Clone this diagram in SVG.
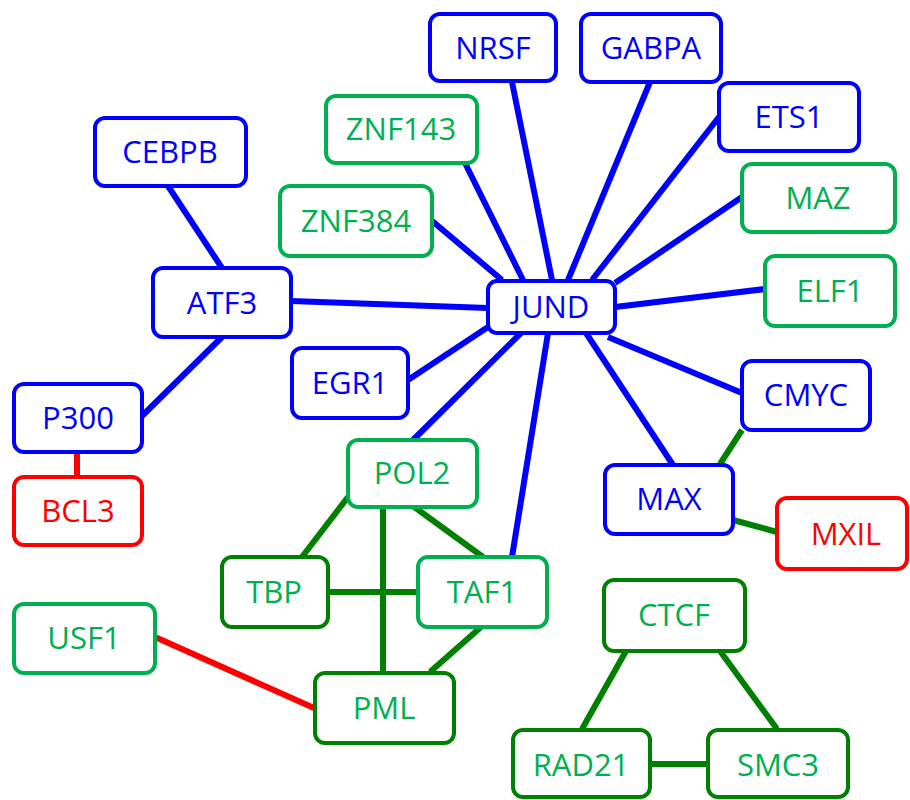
<svg xmlns="http://www.w3.org/2000/svg" width="910" height="800" viewBox="0 0 910 800">
<style>
.n rect{fill:#fff;stroke-width:4;}
.b rect{stroke:#0000FF;} .b text{fill:#0000FF;}
.g rect{stroke:#00B050;} .g text{fill:#00B050;}
.d rect{stroke:#008000;} .d text{fill:#00B050;}
.r rect{stroke:#FF0000;} .r text{fill:#FF0000;}
text{font-family:"Open Sans","Liberation Sans",sans-serif;font-size:31px;text-anchor:middle;}
.e line{stroke-width:6;stroke-linecap:butt;}
.eb{stroke:#0000FF;} .eg{stroke:#008000;} .er{stroke:#FF0000;}
</style>
<rect width="910" height="800" fill="#fff"/>
<g id="edges" class="e">
<line class="eb" x1="168" y1="186" x2="222" y2="268"/>
<line class="eb" x1="222" y1="337" x2="142" y2="416"/>
<line class="er" x1="77" y1="452" x2="77" y2="476"/>
<line class="eb" x1="291" y1="301" x2="488" y2="308"/>
<line class="eb" x1="431" y1="220" x2="502" y2="280"/>
<line class="eb" x1="465" y1="163" x2="523" y2="280"/>
<line class="eb" x1="512" y1="82" x2="552" y2="280"/>
<line class="eb" x1="650" y1="82" x2="568" y2="280"/>
<line class="eb" x1="719" y1="117" x2="592" y2="280"/>
<line class="eb" x1="742" y1="197" x2="615" y2="283"/>
<line class="eb" x1="765" y1="289" x2="615" y2="307"/>
<line class="eb" x1="742" y1="393" x2="608" y2="337"/>
<line class="eb" x1="673" y1="465" x2="586" y2="333"/>
<line class="eg" x1="742" y1="430" x2="720" y2="464"/>
<line class="eg" x1="733" y1="520" x2="777" y2="532"/>
<line class="eb" x1="408" y1="380" x2="488" y2="327"/>
<line class="eb" x1="521" y1="333" x2="413" y2="440"/>
<line class="eb" x1="548" y1="333" x2="512" y2="557"/>
<line class="eg" x1="348" y1="497" x2="302" y2="557"/>
<line class="eg" x1="383" y1="507" x2="383" y2="673"/>
<line class="eg" x1="413" y1="506" x2="483" y2="557"/>
<line class="eg" x1="328" y1="592" x2="418" y2="592"/>
<line class="eg" x1="481" y1="627" x2="430" y2="672"/>
<line class="er" x1="155" y1="637" x2="314" y2="708"/>
<line class="eg" x1="626" y1="651" x2="582" y2="729"/>
<line class="eg" x1="720" y1="651" x2="777" y2="729"/>
<line class="eg" x1="650" y1="764" x2="708" y2="764"/>
</g>
<g id="NRSF" class="n b"><rect x="430" y="14" width="126" height="67" rx="10"/><text x="493" y="59">NRSF</text></g>
<g id="GABPA" class="n b"><rect x="581" y="14" width="140" height="68" rx="10"/><text x="651" y="59">GABPA</text></g>
<g id="ZNF143" class="n g"><rect x="326" y="96" width="151" height="67" rx="10"/><text x="401" y="140">ZNF143</text></g>
<g id="ZNF384" class="n g"><rect x="280" y="186" width="152" height="70" rx="10"/><text x="356" y="232">ZNF384</text></g>
<g id="ETS1" class="n b"><rect x="719" y="83" width="140" height="68" rx="10"/><text x="789" y="128">ETS1</text></g>
<g id="MAZ" class="n g"><rect x="742" y="164" width="153" height="68" rx="10"/><text x="818" y="209">MAZ</text></g>
<g id="ELF1" class="n g"><rect x="765" y="256" width="130" height="70" rx="10"/><text x="830" y="302">ELF1</text></g>
<g id="CEBPB" class="n b"><rect x="95" y="118" width="151" height="68" rx="10"/><text x="170" y="163">CEBPB</text></g>
<g id="ATF3" class="n b"><rect x="153" y="268" width="138" height="69" rx="10"/><text x="222" y="314">ATF3</text></g>
<g id="JUND" class="n b"><rect x="488" y="281" width="127" height="52" rx="9"/><text x="551" y="318">JUND</text></g>
<g id="EGR1" class="n b"><rect x="292" y="348" width="116" height="70" rx="10"/><text x="350" y="394">EGR1</text></g>
<g id="P300" class="n b"><rect x="14" y="384" width="128" height="68" rx="10"/><text x="78" y="429">P300</text></g>
<g id="BCL3" class="n r"><rect x="14" y="477" width="128" height="68" rx="10"/><text x="78" y="522">BCL3</text></g>
<g id="CMYC" class="n b"><rect x="742" y="361" width="128" height="69" rx="10"/><text x="806" y="406">CMYC</text></g>
<g id="MAX" class="n b"><rect x="605" y="465" width="128" height="69" rx="10"/><text x="669" y="510">MAX</text></g>
<g id="MXIL" class="n r"><rect x="777" y="498" width="130" height="71" rx="10"/><text x="846" y="545">MXIL</text></g>
<g id="POL2" class="n g"><rect x="348" y="440" width="129" height="67" rx="10"/><text x="412" y="484">POL2</text></g>
<g id="TBP" class="n d"><rect x="222" y="557" width="106" height="70" rx="10"/><text x="274" y="603">TBP</text></g>
<g id="TAF1" class="n g"><rect x="418" y="557" width="129" height="70" rx="10"/><text x="482" y="603">TAF1</text></g>
<g id="USF1" class="n g"><rect x="14" y="604" width="141" height="69" rx="10"/><text x="84" y="649">USF1</text></g>
<g id="PML" class="n d"><rect x="315" y="673" width="139" height="70" rx="10"/><text x="384" y="719">PML</text></g>
<g id="CTCF" class="n d"><rect x="604" y="580" width="141" height="71" rx="10"/><text x="674" y="626">CTCF</text></g>
<g id="RAD21" class="n d"><rect x="513" y="730" width="137" height="67" rx="10"/><text x="581" y="776">RAD21</text></g>
<g id="SMC3" class="n d"><rect x="708" y="730" width="140" height="67" rx="10"/><text x="778" y="776">SMC3</text></g>
</svg>
